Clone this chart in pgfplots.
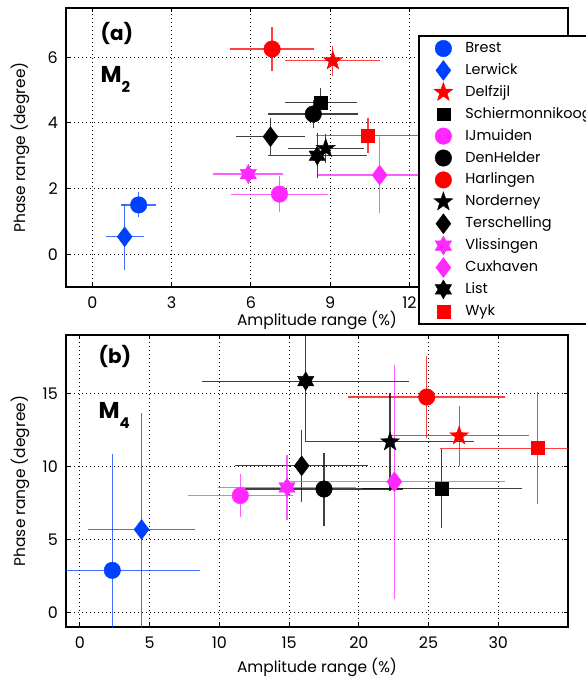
\documentclass[border=0pt]{standalone}
\usepackage{fontspec}
\setmainfont{Poppins}
\usepackage{pgfplots}
\pgfplotsset{compat=1.18}

\definecolor{cblue}{RGB}{0,64,255}
\definecolor{cred}{RGB}{255,0,0}
\definecolor{cmag}{RGB}{255,40,255}

% filled five point star
\pgfdeclareplotmark{fstar}{%
  \pgfpathmoveto{\pgfpointpolar{90}{\pgfplotmarksize}}%
  \pgfpathlineto{\pgfpointpolar{126}{0.4\pgfplotmarksize}}%
  \pgfpathlineto{\pgfpointpolar{162}{\pgfplotmarksize}}%
  \pgfpathlineto{\pgfpointpolar{198}{0.4\pgfplotmarksize}}%
  \pgfpathlineto{\pgfpointpolar{234}{\pgfplotmarksize}}%
  \pgfpathlineto{\pgfpointpolar{270}{0.4\pgfplotmarksize}}%
  \pgfpathlineto{\pgfpointpolar{306}{\pgfplotmarksize}}%
  \pgfpathlineto{\pgfpointpolar{342}{0.4\pgfplotmarksize}}%
  \pgfpathlineto{\pgfpointpolar{18}{\pgfplotmarksize}}%
  \pgfpathlineto{\pgfpointpolar{54}{0.4\pgfplotmarksize}}%
  \pgfpathclose\pgfusepathqfillstroke}
% filled six point star
\pgfdeclareplotmark{hexa}{%
  \pgfpathmoveto{\pgfpointpolar{90}{\pgfplotmarksize}}%
  \pgfpathlineto{\pgfpointpolar{120}{0.577\pgfplotmarksize}}%
  \pgfpathlineto{\pgfpointpolar{150}{\pgfplotmarksize}}%
  \pgfpathlineto{\pgfpointpolar{180}{0.577\pgfplotmarksize}}%
  \pgfpathlineto{\pgfpointpolar{210}{\pgfplotmarksize}}%
  \pgfpathlineto{\pgfpointpolar{240}{0.577\pgfplotmarksize}}%
  \pgfpathlineto{\pgfpointpolar{270}{\pgfplotmarksize}}%
  \pgfpathlineto{\pgfpointpolar{300}{0.577\pgfplotmarksize}}%
  \pgfpathlineto{\pgfpointpolar{330}{\pgfplotmarksize}}%
  \pgfpathlineto{\pgfpointpolar{0}{0.577\pgfplotmarksize}}%
  \pgfpathlineto{\pgfpointpolar{30}{\pgfplotmarksize}}%
  \pgfpathlineto{\pgfpointpolar{60}{0.577\pgfplotmarksize}}%
  \pgfpathclose\pgfusepathqfillstroke}

\pgfplotsset{
  panel/.style={
    scale only axis, width=502bp,
    grid=major, grid style={black, line width=1bp, dash pattern=on 1.2bp off 2.8bp},
    axis line style={line width=1.5bp},
    tick style={black, line width=1bp}, major tick length=4bp,
    tick align=inside, tick pos=both,
    ticklabel style={font=\fontsize{16}{19}\selectfont, inner sep=0pt},
    /pgf/number format/assume math mode=true,
    xticklabel style={anchor=center, yshift=-16bp},
    yticklabel style={anchor=east, xshift=-8bp},
    xlabel={Amplitude range (\%)}, ylabel={Phase range (degree)},
    every axis y label/.style={at={(axis description cs:-0.0916,0.5)}, rotate=90,
      anchor=center, font=\fontsize{15.5}{18}\selectfont},
    every axis plot/.append style={only marks, mark options={solid, line width=0.4bp}},
  },
  eb/.style={error bars/.cd, x dir=both, x explicit, y dir=both, y explicit,
    error mark=none, error bar style={line width=1.2bp, opacity=0.75}},
  mcirc/.style={mark=*, mark size=8.3},
  mdia/.style={mark=diamond*, mark size=10},
  msq/.style={mark=square*, mark size=6.5},
  mstar/.style={mark=fstar, mark size=10},
  mhex/.style={mark=hexa, mark size=9.5},
}

\begin{document}
\begin{tikzpicture}[x=1bp,y=1bp]
\path[use as bounding box] (0,0) rectangle (586,-679);

\begin{axis}[panel, at={(66bp,-8bp)}, anchor=north west, height=279bp,
  xmin=-1, xmax=18, ymin=-1, ymax=7.5,
  xtick={0,3,...,12}, ytick={0,2,4,6},
  every axis x label/.style={at={(axis description cs:0.5,-0.118)}, anchor=center,
    font=\fontsize{15.5}{18}\selectfont},
  legend style={at={(0.701,0.903)}, anchor=north west, draw=black, line width=2bp,
    fill=white, font=\fontsize{14.5}{17}\selectfont, inner xsep=15bp, inner ysep=1.5bp,
    column sep=12.5bp, row sep=0pt,
    nodes={inner xsep=0pt, inner ysep=2.95bp, text height=12bp, text depth=4bp}},
  legend cell align=left,
  legend image code/.code={\draw[#1] plot coordinates {(0bp,0bp)};},
]
\addplot[cblue, mcirc, eb] coordinates {(1.75,1.50) +- (0.66,0.38)};
\addplot[cblue, mdia, eb] coordinates {(1.22,0.53) +- (0.72,1.00)};
\addplot[cred, mstar, eb] coordinates {(9.10,5.89) +- (1.80,0.45)};
\addplot[black, msq, eb] coordinates {(8.64,4.61) +- (1.36,0.45)};
\addplot[cmag, mcirc, eb] coordinates {(7.08,1.83) +- (1.85,0.56)};
\addplot[black, mcirc, eb] coordinates {(8.36,4.27) +- (1.70,0.42)};
\addplot[cred, mcirc, eb] coordinates {(6.80,6.25) +- (1.60,0.67)};
\addplot[black, mstar, eb] coordinates {(8.83,3.22) +- (1.44,0.45)};
\addplot[black, mdia, eb] coordinates {(6.74,3.58) +- (1.30,0.56)};
\addplot[cmag, mhex, eb] coordinates {(5.90,2.44) +- (1.33,0.30)};
\addplot[cmag, mdia, eb] coordinates {(10.87,2.41) +- (2.35,1.16)};
\addplot[black, mhex, eb] coordinates {(8.51,3.00) +- (1.87,0.68)};
\addplot[cred, msq, eb] coordinates {(10.43,3.61) +- (1.95,0.53)};
\legend{Brest,Lerwick,Delfzijl,Schiermonnikoog,IJmuiden,DenHelder,Harlingen,Norderney,Terschelling,Vlissingen,Cuxhaven,List,Wyk}
\node[anchor=west, font=\fontsize{20}{24}\bfseries\selectfont] at (rel axis cs:0.062,0.91) {(a)};
\node[anchor=west, font=\fontsize{23}{26}\bfseries\selectfont] at (rel axis cs:0.062,0.745) {M\raisebox{-10bp}{\fontsize{15}{15}\selectfont 2}};
\end{axis}

\begin{axis}[panel, at={(66bp,-335bp)}, anchor=north west, height=292bp,
  xmin=-1, xmax=35, ymin=-1, ymax=19,
  xtick={0,5,...,30}, ytick={0,5,10,15},
  every axis x label/.style={at={(axis description cs:0.5,-0.137)}, anchor=center,
    font=\fontsize{15.5}{18}\selectfont},
]
\addplot[cblue, mcirc, eb] coordinates {(2.32,2.88) +- (6.29,7.96)};
\addplot[cblue, mdia, eb] coordinates {(4.42,5.68) +- (3.85,8.00)};
\addplot[cred, mstar, eb] coordinates {(27.19,12.09) +- (5.00,2.07)};
\addplot[black, msq, eb] coordinates {(25.94,8.50) +- (5.74,2.70)};
\addplot[cmag, mcirc, eb] coordinates {(11.50,8.00) +- (3.77,1.48)};
\addplot[black, mcirc, eb] coordinates {(17.50,8.45) +- (5.66,2.50)};
\addplot[cred, mcirc, eb] coordinates {(24.87,14.75) +- (5.63,2.80)};
\addplot[black, mstar, eb] coordinates {(22.24,11.68) +- (6.05,3.35)};
\addplot[black, mdia, eb] coordinates {(15.90,10.04) +- (4.78,2.47)};
\addplot[cmag, mhex, eb] coordinates {(14.85,8.56) +- (4.95,2.20)};
\addplot[cmag, mdia, eb] coordinates {(22.55,8.95) +- (7.90,8.00)};
\addplot[black, mhex, eb] coordinates {(16.19,15.84) +- (7.44,4.16)};
\addplot[cred, msq, eb] coordinates {(32.80,11.25) +- (7.00,3.83)};
\node[anchor=west, font=\fontsize{20}{24}\bfseries\selectfont] at (rel axis cs:0.058,0.926) {(b)};
\node[anchor=west, font=\fontsize{23}{26}\bfseries\selectfont] at (rel axis cs:0.058,0.726) {M\raisebox{-10bp}{\fontsize{15}{15}\selectfont 4}};
\end{axis}
\end{tikzpicture}
\end{document}
